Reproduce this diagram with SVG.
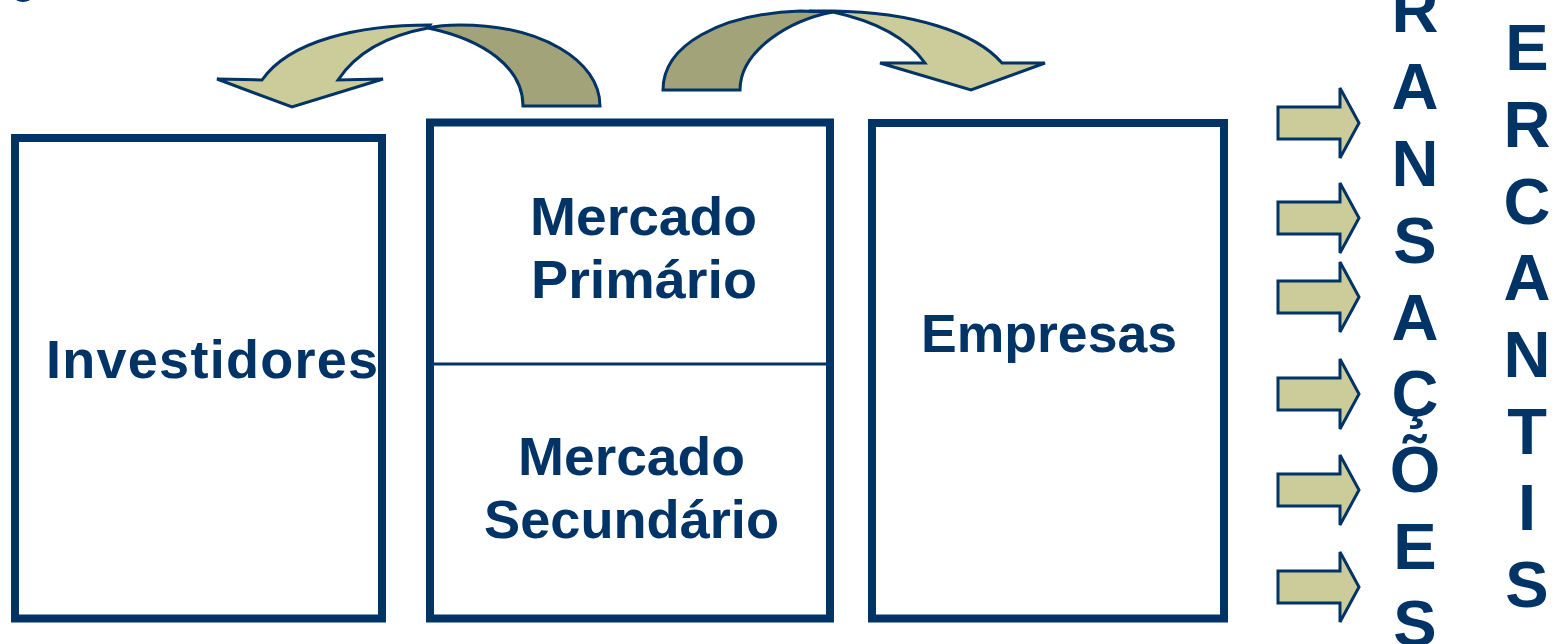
<svg xmlns="http://www.w3.org/2000/svg" width="1562" height="644" viewBox="0 0 1562 644">
<style>
.box{fill:#ffffff;stroke:#003366;stroke-width:8}
.lbl{font-family:"Liberation Sans",Arial,sans-serif;font-weight:bold;font-size:54px;fill:#003366;text-anchor:middle}
.vert{font-family:"Liberation Sans",Arial,sans-serif;font-weight:bold;font-size:65px;fill:#003366;text-anchor:middle}
.light{fill:#CCCC9A;stroke:#003366;stroke-width:3;stroke-linejoin:miter}
.dark{fill:#A3A37A;stroke:#003366;stroke-width:3;stroke-linejoin:miter}
.sarrow{fill:#CCCC9A;stroke:#003366;stroke-width:3;stroke-linejoin:miter}
</style>
<rect width="1562" height="644" fill="#ffffff"/>
<ellipse cx="23" cy="-4" rx="9" ry="6" fill="#003366"/>
<g id="investidores">
<rect class="box" x="15" y="138" width="367" height="480.5"/>
<text class="lbl" x="212" y="378" textLength="332" lengthAdjust="spacing">Investidores</text>
</g>
<g id="mercado">
<rect class="box" x="430" y="122.5" width="400" height="496"/>
<line x1="434" y1="364" x2="826" y2="364" stroke="#003366" stroke-width="3"/>
<text class="lbl" x="643.5" y="235" textLength="227" lengthAdjust="spacingAndGlyphs">Mercado</text>
<text class="lbl" x="644" y="298" textLength="226" lengthAdjust="spacingAndGlyphs">Primário</text>
<text class="lbl" x="631.5" y="475" textLength="227" lengthAdjust="spacingAndGlyphs">Mercado</text>
<text class="lbl" x="631.5" y="538" textLength="295" lengthAdjust="spacingAndGlyphs">Secundário</text>
</g>
<g id="empresas">
<rect class="box" x="872" y="123" width="352" height="495.5"/>
<text class="lbl" x="1049" y="352" textLength="256" lengthAdjust="spacingAndGlyphs">Empresas</text>
</g>
<g id="connectors">
<g id="arrow-left">
<path class="dark" d="M428,28 C440,25 450,25 460,25 C540,25 600,60 600,106 L523,106 C523,68 485,40 428,28 Z"/>
<path class="light" d="M262,80 C290,40 360,25 430,25 L428,28 C390,35 358,50 338,80 L383,79 L292,107 L217,79 Z"/>
</g>
<g id="arrow-right">
<path class="dark" d="M663,90 C663,45 720,14 800,11 L833,12 C790,20 740,50 740,90 Z"/>
<path class="light" d="M833,12 C800,11 800,11 833,11 C912,12 975,32 1002,63 L1045,63 L971,90 L880,63 L925,63 C905,35 870,20 833,12 Z"/>
</g>
<path class="sarrow" d="M1278,107 L1340,107 L1340,88 L1359,123 L1340,158 L1340,139 L1278,139 Z"/>
<path class="sarrow" d="M1278,202 L1340,202 L1340,183 L1359,218 L1340,253 L1340,234 L1278,234 Z"/>
<path class="sarrow" d="M1278,281 L1340,281 L1340,262 L1359,297 L1340,332 L1340,313 L1278,313 Z"/>
<path class="sarrow" d="M1278,378 L1340,378 L1340,359 L1359,394 L1340,429 L1340,410 L1278,410 Z"/>
<path class="sarrow" d="M1278,474 L1340,474 L1340,455 L1359,490 L1340,525 L1340,506 L1278,506 Z"/>
<path class="sarrow" d="M1278,571 L1340,571 L1340,552 L1359,587 L1340,622 L1340,603 L1278,603 Z"/>
</g>
<g id="transacoes">
<text class="vert" x="1415" y="32">R</text>
<text class="vert" x="1415" y="109">A</text>
<text class="vert" x="1415" y="186">N</text>
<text class="vert" x="1415" y="263">S</text>
<text class="vert" x="1415" y="340">A</text>
<text class="vert" x="1415" y="416">Ç</text>
<text class="vert" x="1415" y="492">Õ</text>
<text class="vert" x="1415" y="569">E</text>
<text class="vert" x="1415" y="646">S</text>
</g>
<g id="mercantis">
<text class="vert" x="1527" y="70">E</text>
<text class="vert" x="1527" y="147">R</text>
<text class="vert" x="1527" y="224">C</text>
<text class="vert" x="1527" y="300">A</text>
<text class="vert" x="1527" y="377">N</text>
<text class="vert" x="1527" y="454">T</text>
<text class="vert" x="1527" y="530">I</text>
<text class="vert" x="1527" y="607">S</text>
</g>
</svg>
